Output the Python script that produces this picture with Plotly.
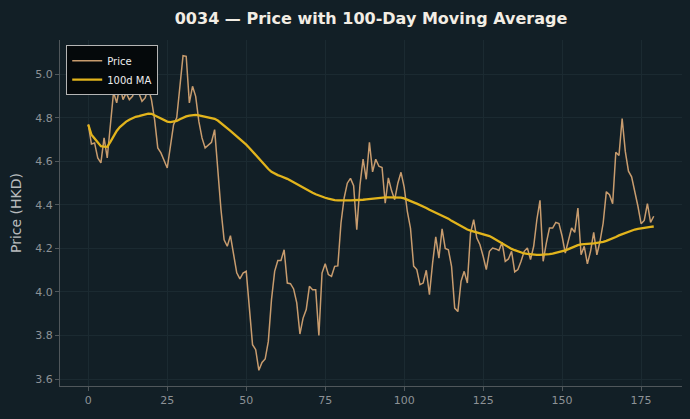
import plotly.graph_objects as go

days = list(range(180))

price = [
    4.77, 4.68, 4.685, 4.616, 4.593, 4.708, 4.616, 4.77, 4.918, 4.869,
    4.949, 4.884, 4.915, 4.884, 4.899, 4.938, 4.915, 4.876, 4.892, 4.938,
    4.884, 4.792, 4.662, 4.639, 4.608, 4.57, 4.669, 4.769, 4.80, 4.945,
    5.086, 5.083, 4.869, 4.945, 4.899, 4.784, 4.708, 4.662, 4.677, 4.688,
    4.746, 4.55, 4.38, 4.24, 4.21, 4.259, 4.164, 4.088, 4.06, 4.087,
    4.095, 3.93, 3.758, 3.735, 3.64, 3.676, 3.692, 3.773, 3.965, 4.095,
    4.145, 4.145, 4.194, 4.041, 4.038, 4.014, 3.95, 3.807, 3.88, 3.919,
    4.026, 4.01, 4.01, 3.80, 4.087, 4.13, 4.08, 4.072, 4.118, 4.12,
    4.317, 4.432, 4.50, 4.522, 4.488, 4.286, 4.49, 4.611, 4.518, 4.688,
    4.552, 4.61, 4.578, 4.572, 4.408, 4.524, 4.466, 4.424, 4.50, 4.55,
    4.482, 4.37, 4.293, 4.119, 4.103, 4.034, 4.041, 4.10, 3.988, 4.133,
    4.253, 4.156, 4.29, 4.20, 4.194, 4.118, 3.926, 3.91, 4.049, 4.095,
    4.041, 4.27, 4.332, 4.248, 4.217, 4.164, 4.103, 4.187, 4.202, 4.198,
    4.191, 4.228, 4.141, 4.152, 4.187, 4.092, 4.103, 4.141, 4.187, 4.202,
    4.149, 4.21, 4.332, 4.421, 4.141, 4.225, 4.294, 4.294, 4.32, 4.314,
    4.256, 4.179, 4.233, 4.294, 4.274, 4.386, 4.171, 4.21, 4.129, 4.187,
    4.274, 4.171, 4.233, 4.317, 4.461, 4.447, 4.406, 4.642, 4.627, 4.797,
    4.646, 4.555, 4.529, 4.463, 4.394, 4.314, 4.329, 4.406, 4.32, 4.348,
]

ma100 = [
    4.769, 4.723, 4.705, 4.685, 4.670, 4.668, 4.667, 4.690, 4.716, 4.740,
    4.758, 4.772, 4.783, 4.792, 4.799, 4.805, 4.808, 4.812, 4.816, 4.820,
    4.819, 4.812, 4.803, 4.795, 4.788, 4.783, 4.781, 4.782, 4.786, 4.794,
    4.802, 4.807, 4.810, 4.813, 4.814, 4.812, 4.809, 4.806, 4.803, 4.800,
    4.796, 4.788, 4.777, 4.765, 4.752, 4.740, 4.728, 4.716, 4.703, 4.690,
    4.677, 4.662, 4.646, 4.628, 4.610, 4.594, 4.578, 4.565, 4.552, 4.543,
    4.537, 4.532, 4.527, 4.520, 4.512, 4.504, 4.496, 4.487, 4.477, 4.469,
    4.462, 4.456, 4.449, 4.443, 4.437, 4.433, 4.429, 4.425, 4.422, 4.421,
    4.420, 4.420, 4.421, 4.421, 4.421, 4.421, 4.422, 4.424, 4.426, 4.428,
    4.430, 4.431, 4.432, 4.434, 4.435, 4.435, 4.435, 4.435, 4.435, 4.434,
    4.430, 4.425, 4.419, 4.412, 4.406, 4.400, 4.393, 4.386, 4.378, 4.371,
    4.365, 4.359, 4.352, 4.345, 4.337, 4.327, 4.319, 4.311, 4.302, 4.294,
    4.287, 4.282, 4.278, 4.275, 4.272, 4.268, 4.263, 4.257, 4.249, 4.240,
    4.231, 4.222, 4.214, 4.206, 4.198, 4.192, 4.186, 4.181, 4.177, 4.175,
    4.173, 4.172, 4.171, 4.171, 4.171, 4.172, 4.174, 4.176, 4.179, 4.182,
    4.186, 4.191, 4.197, 4.204, 4.210, 4.215, 4.219, 4.221, 4.222, 4.222,
    4.223, 4.225, 4.227, 4.230, 4.235, 4.240, 4.246, 4.253, 4.260, 4.266,
    4.272, 4.277, 4.282, 4.287, 4.290, 4.293, 4.295, 4.297, 4.299, 4.301,
]

x_ticks = [0, 25, 50, 75, 100, 125, 150, 175]
y_ticks = [3.6, 3.8, 4.0, 4.2, 4.4, 4.6, 4.8, 5.0]

BG = "#121f26"
GRID = "#1b2a31"
SPINE = "#50575b"
TICKTXT = "#8d9296"

fig = go.Figure()
fig.add_trace(go.Scatter(x=days, y=price, mode="lines", name="Price",
                         line=dict(color="#c89c6e", width=1.5)))
fig.add_trace(go.Scatter(x=days, y=ma100, mode="lines", name="100d MA",
                         line=dict(color="#e2b41c", width=2.3)))

fig.update_layout(
    width=690, height=419,
    margin=dict(l=60, r=8, t=40, b=33),
    paper_bgcolor=BG, plot_bgcolor=BG,
    font=dict(family="DejaVu Sans", color=TICKTXT, size=11),
    title=dict(text="<b>0034 — Price with 100-Day Moving Average</b>",
               x=(60 + 682) / 2 / 690, xanchor="center", y=0.957, yanchor="middle",
               font=dict(size=16, color="#f2ede4", family="DejaVu Sans")),
    showlegend=True,
    legend=dict(x=0.01, y=0.985, xanchor="left", yanchor="top",
                bgcolor="#05090b", bordercolor="#b5b5b5", borderwidth=1,
                font=dict(size=10, color="#eeeeee"),
                tracegroupgap=0, itemwidth=30),
)
fig.update_xaxes(range=[-8.95, 187.95], tickvals=x_ticks,
                 showgrid=True, gridcolor=GRID, gridwidth=1,
                 showline=True, linecolor=SPINE, linewidth=1,
                 ticks="outside", ticklen=4, tickcolor=SPINE,
                 zeroline=False, tickfont=dict(size=11, color=TICKTXT))
fig.update_yaxes(range=[3.568, 5.158], tickvals=y_ticks, tickformat=".1f",
                 showgrid=True, gridcolor=GRID, gridwidth=1,
                 showline=True, linecolor=SPINE, linewidth=1,
                 ticks="outside", ticklen=4, tickcolor=SPINE,
                 zeroline=False, tickfont=dict(size=11, color=TICKTXT),
                 title=dict(text="Price (HKD)", font=dict(size=14, color="#b9bcbe"),
                            standoff=10))

fig.write_html("out.html")
